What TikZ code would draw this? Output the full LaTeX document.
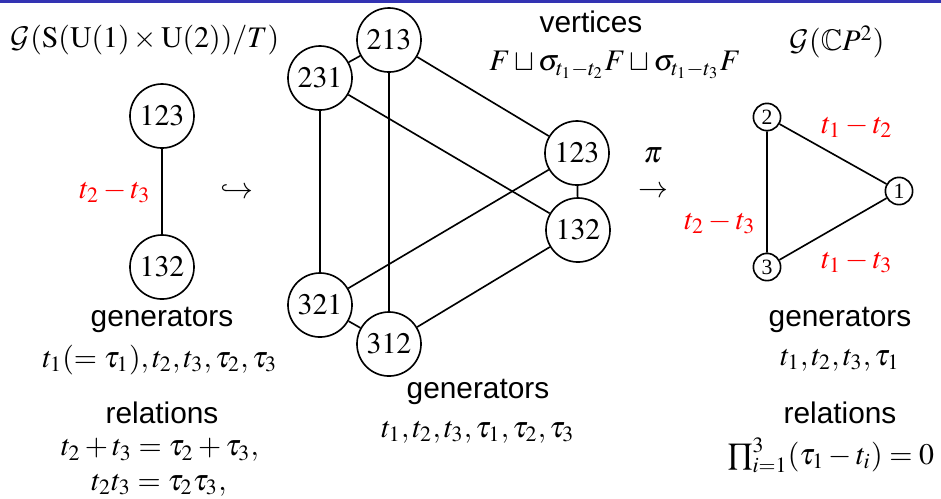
\documentclass[tikz,border=0pt,11pt]{standalone}
\usepackage{amssymb}
\usepackage{mathptmx}
\usepackage{fontspec}
\setmainfont{Liberation Serif}
\setsansfont{Liberation Sans}
\DeclareMathAlphabet{\mathcal}{OMS}{cmsy}{m}{n}
\usetikzlibrary{positioning}
\definecolor{framebar}{RGB}{51,51,179}
\definecolor{wred}{RGB}{255,0,0}

\begin{document}
\begin{tikzpicture}[x=0.367pt,y=-0.367pt,line width=0.6pt,
    perm/.style={circle,draw,minimum size=23.5pt,inner sep=1pt},
    fixpt/.style={circle,draw,minimum size=10pt,inner sep=0.5pt,font=\scriptsize},
    word/.style={font=\sffamily,inner sep=0pt},
    wt/.style={wred,inner sep=0pt}]
    \useasboundingbox (0,0) rectangle (941,498);
    \fill[framebar] (0,0) rectangle (941,3);
    % titles
    \node[inner sep=0pt] (ttl) at (145,40) {$\mathcal{G}(\mathrm{S}(\mathrm{U}(1)\times\mathrm{U}(2))/T)$};
    \node[word] (vert) at (591,22) {vertices};
    \node[inner sep=0pt] (vset) at (615,65) {$F\sqcup\sigma_{t_1-t_2}F\sqcup\sigma_{t_1-t_3}F$};
    \node[inner sep=0pt] (ttr) at (837,42) {$\mathcal{G}(\mathbb{C}P^2)$};
    % left graph
    \node[perm] (l123) at (162,116) {$123$};
    \node[perm] (l132) at (162,267) {$132$};
    \draw (l123)--(l132);
    \node[wt] (lw) at (115,192) {$t_2-t_3$};
    \node[inner sep=0pt] (incl) at (237,192) {$\hookrightarrow$};
    % middle graph
    \foreach \n/\x/\y in {213/389/40,231/320/78,123/577/153,132/578/230,321/320/305,312/389/344}
      \node[perm] (m\n) at (\x,\y) {$\n$};
    \foreach \a/\b in {213/231,213/312,213/123,231/321,231/132,123/132,123/321,132/312,321/312}
      \draw (m\a)--(m\b);
    \node[inner sep=0pt] (pi) at (653,155) {$\pi$};
    \node[inner sep=0pt] (proj) at (653,192) {$\rightarrow$};
    % right graph
    \node[fixpt] (c2) at (767,117) {2};
    \node[fixpt] (c1) at (899,191) {1};
    \node[fixpt] (c3) at (767,267) {3};
    \draw (c2)--(c1) (c1)--(c3) (c2)--(c3);
    \node[wt] (w12) at (857,127) {$t_1-t_2$};
    \node[wt] (w23) at (720,223) {$t_2-t_3$};
    \node[wt] (w13) at (857,262) {$t_1-t_3$};
    % generators and relations
    \node[word] (gl) at (162,320) {generators};
    \node[inner sep=0pt] (gls) at (160,360) {$t_1(=\tau_1),t_2,t_3,\tau_2,\tau_3$};
    \node[word] (rl) at (162,413) {relations};
    \node[inner sep=0pt] (rl1) at (160,450) {$t_2+t_3=\tau_2+\tau_3,$};
    \node[inner sep=0pt] (rl2) at (159,485) {$t_2t_3=\tau_2\tau_3,$};
    \node[word] (gm) at (478,392) {generators};
    \node[inner sep=0pt] (gms) at (478,432) {$t_1,t_2,t_3,\tau_1,\tau_2,\tau_3$};
    \node[word] (gr) at (840,320) {generators};
    \node[inner sep=0pt] (grs) at (840,360) {$t_1,t_2,t_3,\tau_1$};
    \node[word] (rr) at (840,413) {relations};
    \node[inner sep=0pt] (rr1) at (831,455) {$\prod_{i=1}^3(\tau_1-t_i)=0$};
  \end{tikzpicture}
\end{document}
